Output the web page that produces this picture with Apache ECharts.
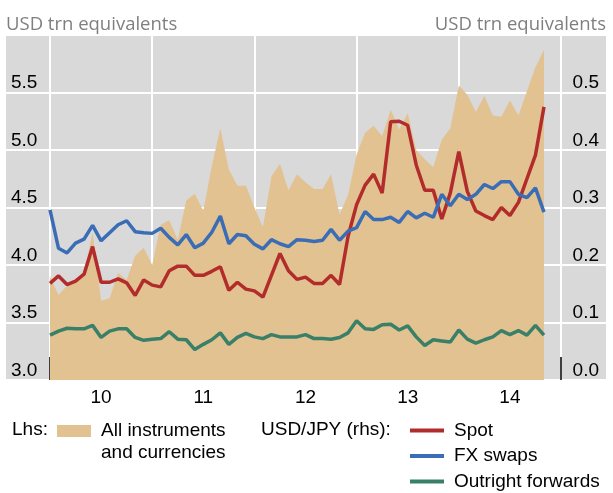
<!DOCTYPE html>
<html>
<head>
<meta charset="utf-8">
<title>USD/JPY trading</title>
<script src="https://cdn.jsdelivr.net/npm/echarts@6/dist/echarts.min.js"></script>
<style>
  html, body { margin: 0; padding: 0; background: #fff; }
  #chart { width: 613px; height: 493px; }
</style>
</head>
<body>
<div id="chart"></div>
<script>
// monthly observations, Jan 2010 .. Nov 2014 (month index 0 = Jan 2010)
const yearLabels = ['10', '11', '12', '13', '14']
const lhsTicks = ['3.0', '3.5', '4.0', '4.5', '5.0', '5.5']
const rhsTicks = ['0.0', '0.1', '0.2', '0.3', '0.4', '0.5']

// lhs: all instruments and currencies
const allInstruments = [
  3.90, 3.74, 3.82, 3.87, 3.93, 4.28, 3.69, 3.71, 3.93, 3.87, 4.08, 4.15,
  4.00, 4.35, 4.39, 4.22, 4.56, 4.62, 4.47, 4.86, 5.19, 4.83, 4.69, 4.69,
  4.50, 4.33, 4.77, 4.88, 4.65, 4.79, 4.72, 4.66, 4.66, 4.79, 4.44, 4.61,
  4.96, 5.15, 5.21, 5.12, 5.35, 5.18, 5.32, 5.00, 4.92, 4.85, 5.09, 5.19,
  5.56, 5.48, 5.33, 5.47, 5.30, 5.29, 5.43, 5.30, 5.51, 5.72, 5.87
]
// rhs: USD/JPY
const spot = [
  0.168, 0.181, 0.166, 0.172, 0.184, 0.232, 0.170, 0.170, 0.176, 0.169, 0.147, 0.174,
  0.165, 0.162, 0.190, 0.198, 0.198, 0.182, 0.182, 0.189, 0.197, 0.156, 0.170, 0.158,
  0.155, 0.144, 0.182, 0.220, 0.190, 0.175, 0.179, 0.168, 0.168, 0.182, 0.166, 0.250,
  0.305, 0.339, 0.358, 0.325, 0.449, 0.450, 0.443, 0.374, 0.330, 0.330, 0.280, 0.325,
  0.397, 0.328, 0.294, 0.286, 0.279, 0.300, 0.286, 0.309, 0.350, 0.391, 0.475
]
const fxSwaps = [
  0.296, 0.229, 0.221, 0.238, 0.245, 0.269, 0.242, 0.256, 0.270, 0.277, 0.258, 0.256,
  0.255, 0.264, 0.248, 0.235, 0.253, 0.230, 0.238, 0.257, 0.285, 0.237, 0.253, 0.251,
  0.236, 0.228, 0.244, 0.237, 0.232, 0.244, 0.243, 0.241, 0.243, 0.262, 0.243, 0.259,
  0.265, 0.293, 0.279, 0.279, 0.283, 0.274, 0.293, 0.282, 0.290, 0.283, 0.323, 0.303,
  0.323, 0.314, 0.323, 0.340, 0.333, 0.345, 0.345, 0.323, 0.317, 0.334, 0.292
]
const outrightForwards = [
  0.078, 0.085, 0.090, 0.089, 0.089, 0.095, 0.074, 0.085, 0.089, 0.089, 0.074, 0.069,
  0.071, 0.072, 0.084, 0.071, 0.070, 0.053, 0.062, 0.070, 0.082, 0.062, 0.074, 0.081,
  0.075, 0.072, 0.079, 0.075, 0.075, 0.075, 0.079, 0.072, 0.072, 0.071, 0.074, 0.082,
  0.103, 0.089, 0.088, 0.096, 0.097, 0.087, 0.094, 0.075, 0.060, 0.070, 0.068, 0.066,
  0.087, 0.071, 0.064, 0.070, 0.075, 0.086, 0.079, 0.086, 0.078, 0.095, 0.078
]

const toPoints = arr => arr.map((v, i) => [i, v])

const font = 'Liberation Sans, Arial, sans-serif'
const unitFont = 'Open Sans, Noto Sans, sans-serif'

const chart = echarts.init(document.getElementById('chart'), null, { renderer: 'canvas' })

const lineSeries = (name, data, color) => ({
  name: name,
  type: 'line',
  xAxisIndex: 1,
  yAxisIndex: 3,
  data: toPoints(data),
  symbol: 'none',
  itemStyle: { color: color },
  lineStyle: { color: color, width: 3.5 }
})

chart.setOption({
  animation: false,
  grid: [
    // gray panel, carries the horizontal grid and both value scales
    { left: 6, right: 7, top: 35, bottom: 113, show: true, backgroundColor: '#d9d9d9', borderWidth: 0, z: -1 },
    // data area, Jan 2010 .. Jan 2015
    { left: 50, width: 511, top: 35, bottom: 113 }
  ],
  xAxis: [
    { gridIndex: 0, type: 'value', min: 0, max: 1, show: false },
    {
      gridIndex: 1, type: 'value', min: 0, max: 60, interval: 12, position: 'bottom',
      axisLine: { show: false },
      axisTick: { show: true, inside: true, length: 23, lineStyle: { color: '#000', width: 1.5 } },
      minorTick: { show: true, splitNumber: 4, length: 12, lineStyle: { color: '#000', width: 1.5 } },
      axisLabel: { show: false },
      splitLine: { show: true, lineStyle: { color: '#fff', width: 2 } }
    },
    {
      // year labels sit in the middle of each year
      gridIndex: 1, type: 'value', min: 0, max: 60, interval: 6, position: 'bottom',
      axisLine: { show: false },
      axisTick: { show: false },
      splitLine: { show: false },
      axisLabel: {
        margin: 8, fontSize: 19, fontFamily: font, color: '#000',
        formatter: v => (v % 12 === 6 ? yearLabels[(v - 6) / 12] : '')
      }
    }
  ],
  yAxis: [
    {
      gridIndex: 0, type: 'value', position: 'left', min: 3, max: 6, interval: 0.5,
      axisLine: { show: false },
      axisTick: { show: false },
      splitLine: { show: true, lineStyle: { color: '#fff', width: 2 } },
      axisLabel: {
        inside: true, margin: 5, verticalAlign: 'bottom', fontSize: 19, fontFamily: font, color: '#000',
        formatter: (v, idx) => lhsTicks[idx] || ''
      },
      name: 'USD trn equivalents',
      nameLocation: 'end',
      nameGap: 1,
      nameTextStyle: { align: 'left', verticalAlign: 'bottom', fontSize: 18.5, fontFamily: unitFont, color: '#7f7f7f' }
    },
    {
      gridIndex: 0, type: 'value', position: 'right', min: 0, max: 0.6, interval: 0.1,
      axisLine: { show: false },
      axisTick: { show: false },
      splitLine: { show: false },
      axisLabel: {
        inside: true, margin: 7, verticalAlign: 'bottom', fontSize: 19, fontFamily: font, color: '#000',
        formatter: (v, idx) => rhsTicks[idx] || ''
      },
      name: 'USD trn equivalents',
      nameLocation: 'end',
      nameGap: 1,
      nameTextStyle: { align: 'right', verticalAlign: 'bottom', fontSize: 18.5, fontFamily: unitFont, color: '#7f7f7f' }
    },
    { gridIndex: 1, type: 'value', min: 3, max: 6, show: false },
    { gridIndex: 1, type: 'value', min: 0, max: 0.6, show: false }
  ],
  legend: [
    {
      data: ['All instruments\nand currencies'],
      left: 57, top: 398, padding: 0,
      selectedMode: false,
      icon: 'rect', itemWidth: 34, itemHeight: 12,
      // a blank first line keeps the first text line level with the swatch
      formatter: name => '\n' + name,
      textStyle: { fontSize: 19, fontFamily: font, color: '#000', lineHeight: 22, padding: [0, 0, 0, 5] }
    },
    {
      data: ['Spot', 'FX swaps', 'Outright forwards'],
      orient: 'vertical',
      left: 410, bottom: 1.5, padding: 0, itemGap: 5.5,
      selectedMode: false,
      icon: 'rect', itemWidth: 34, itemHeight: 4,
      textStyle: { fontSize: 19, fontFamily: font, color: '#000', lineHeight: 20, padding: [0, 0, 0, 5] }
    }
  ],
  graphic: [
    { type: 'text', left: 12, top: 420, style: { text: 'Lhs:', fontSize: 19, fontFamily: font, fill: '#000' } },
    { type: 'text', left: 261, top: 420, style: { text: 'USD/JPY (rhs):', fontSize: 19, fontFamily: font, fill: '#000' } }
  ],
  series: [
    {
      name: 'All instruments\nand currencies',
      type: 'line',
      xAxisIndex: 1,
      yAxisIndex: 2,
      data: toPoints(allInstruments),
      symbol: 'none',
      itemStyle: { color: '#e2c290' },
      lineStyle: { width: 0 },
      areaStyle: { color: '#e2c290', opacity: 1, origin: 'start' }
    },
    lineSeries('Spot', spot, '#b22c2c'),
    lineSeries('FX swaps', fxSwaps, '#3a6db5'),
    lineSeries('Outright forwards', outrightForwards, '#3a8068')
  ]
})
</script>
</body>
</html>
